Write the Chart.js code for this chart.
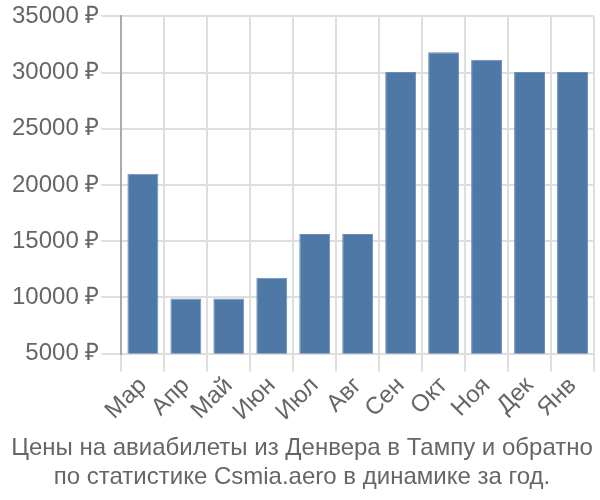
<!DOCTYPE html>
<html>
<head>
<meta charset="utf-8">
<script src="https://cdn.jsdelivr.net/npm/chart.js@4"></script>
<style>
  body { margin: 0; background: #fff; }
  #wrap { width: 600px; height: 500px; }
</style>
</head>
<body>
<div id="wrap"><canvas id="priceChart"></canvas></div>
<script>
const months = ['Мар', 'Апр', 'Май', 'Июн', 'Июл', 'Авг', 'Сен', 'Окт', 'Ноя', 'Дек', 'Янв'];
const prices = [21000, 9900, 9900, 11750, 15650, 15650, 30050, 31800, 31150, 30050, 30050];
const yMin = 5000;
const yMax = 35000;
const yStep = 5000;
const titleLines = ['Цены на авиабилеты из Денвера в Тампу и обратно', 'по статистике Csmia.aero в динамике за год.'];

Chart.defaults.font.family = '"Liberation Sans", Arial, sans-serif';
Chart.defaults.color = '#666';

var ctx = document.getElementById('priceChart').getContext('2d');
var myChart = new Chart(ctx, {
    type: 'bar',
    data: {
        labels: months,
        datasets: [{
            data: prices,
            backgroundColor: '#4e79a7',
            borderColor: '#6b8fb8',
            borderWidth: 1,
            categoryPercentage: 1,
            barPercentage: 0.72
        }]
    },
    options: {
        responsive: true,
        maintainAspectRatio: false,
        animation: false,
        layout: {
            padding: { top: 6, right: 6, left: 10, bottom: 0 }
        },
        scales: {
            x: {
                grid: {
                    color: '#dedede',
                    lineWidth: 2,
                    offset: true,
                    tickLength: 18
                },
                border: { color: '#dedede', width: 2 },
                ticks: {
                    font: { size: 24 },
                    autoSkip: false,
                    maxRotation: 45,
                    minRotation: 45,
                    padding: 0
                }
            },
            y: {
                min: yMin,
                max: yMax,
                grid: {
                    color: '#dedede',
                    lineWidth: 2,
                    tickLength: 20
                },
                border: { color: '#aaa', width: 2 },
                ticks: {
                    stepSize: yStep,
                    font: { size: 24 },
                    padding: 2,
                    callback: (v) => v + ' ₽'
                }
            }
        },
        plugins: {
            legend: { display: false },
            tooltip: { enabled: false },
            title: {
                display: true,
                position: 'bottom',
                text: titleLines,
                color: '#666',
                font: { size: 24, weight: 'normal' },
                padding: { top: 8, bottom: 8 },
                lineHeight: 1.1
            }
        }
    }
});
</script>
</body>
</html>
